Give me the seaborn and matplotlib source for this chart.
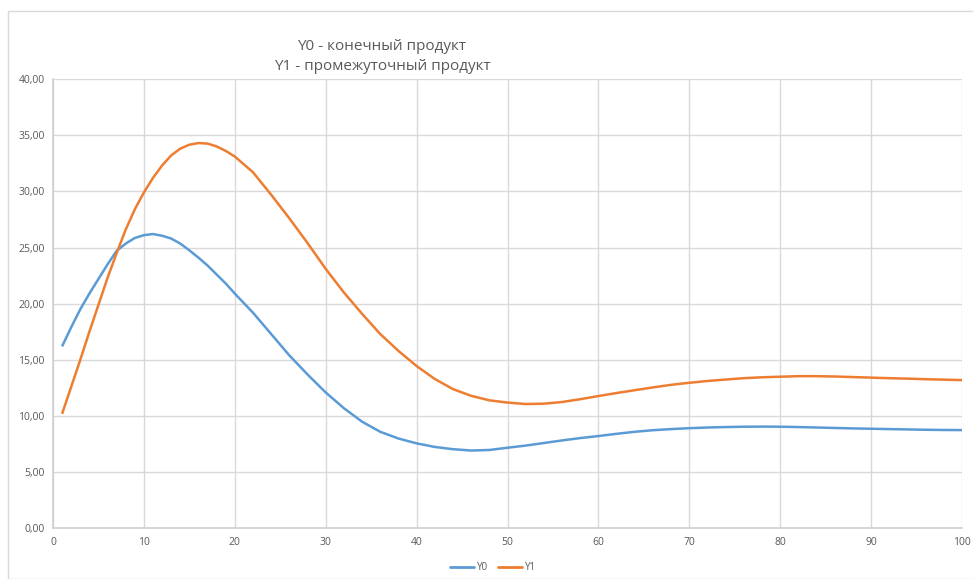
import matplotlib
matplotlib.use("Agg")
import matplotlib.pyplot as plt
import seaborn as sns
import pandas as pd
from matplotlib.ticker import FuncFormatter, MultipleLocator
from matplotlib.patches import Rectangle
from matplotlib.lines import Line2D

x_vals = list(range(1, 21)) + list(range(22, 101, 2))

y0 = [16.2, 17.9, 19.5, 20.9, 22.2, 23.5, 24.7, 25.35, 25.85, 26.1,
      26.2, 26.05, 25.8, 25.35, 24.75, 24.1, 23.4, 22.6, 21.8, 20.9,
      19.2, 17.3, 15.4, 13.7, 12.1, 10.7, 9.5, 8.6, 8.0, 7.57,
      7.25, 7.05, 6.93, 6.98, 7.18, 7.37, 7.6, 7.83, 8.04, 8.22,
      8.42, 8.6, 8.74, 8.84, 8.92, 8.98, 9.02, 9.05, 9.06, 9.05,
      9.02, 8.98, 8.94, 8.9, 8.87, 8.84, 8.81, 8.78, 8.76, 8.75]

y1 = [10.2, 12.6, 15.0, 17.5, 19.9, 22.3, 24.5, 26.6, 28.4, 29.9,
      31.2, 32.3, 33.2, 33.8, 34.15, 34.3, 34.25, 34.0, 33.6, 33.1,
      31.7, 29.7, 27.6, 25.4, 23.1, 21.0, 19.1, 17.3, 15.8, 14.45,
      13.3, 12.4, 11.8, 11.4, 11.2, 11.07, 11.1, 11.25, 11.5, 11.78,
      12.05, 12.3, 12.55, 12.78, 12.96, 13.12, 13.25, 13.37, 13.45, 13.5,
      13.55, 13.55, 13.52, 13.47, 13.42, 13.37, 13.33, 13.28, 13.24, 13.2]

series_names = ["Y0", "Y1"]
title_lines = ["Y0 - конечный продукт", "Y1 - промежуточный продукт"]

df = pd.DataFrame({
    "x": x_vals * 2,
    "y": y0 + y1,
    "series": [series_names[0]] * len(x_vals) + [series_names[1]] * len(x_vals),
})

sns.set_theme(style="white")
plt.rcParams["font.family"] = ["Open Sans", "DejaVu Sans"]

fig = plt.figure(figsize=(9.73, 5.79), dpi=100)
ax = fig.add_axes([53 / 973, 1 - 528.4 / 579, (962 - 53) / 973, (528.4 - 79) / 579])

palette = {"Y0": "#5B9BD5", "Y1": "#ED7D31"}
sns.lineplot(data=df, x="x", y="y", hue="series", palette=palette,
             linewidth=1.8, ax=ax, legend=False, zorder=3,
             solid_joinstyle="round", solid_capstyle="butt")

ax.set_xlim(0, 100)
ax.set_ylim(0, 40)
ax.xaxis.set_major_locator(MultipleLocator(10))
ax.yaxis.set_major_locator(MultipleLocator(5))
ax.yaxis.set_major_formatter(FuncFormatter(lambda v, p: f"{v:.2f}".replace(".", ",")))
ax.xaxis.set_major_formatter(FuncFormatter(lambda v, p: f"{int(v)}"))
ax.grid(True, color="#d9d9d9", linewidth=1.0, zorder=0)
ax.set_axisbelow(True)
for side in ["top", "right"]:
    ax.spines[side].set_visible(False)
for side in ["left", "bottom"]:
    ax.spines[side].set_color("#d0d0d0")
    ax.spines[side].set_linewidth(1.2)
ax.tick_params(axis="both", length=0, labelsize=7.5, colors="#595959", pad=6)
ax.set_xlabel("")
ax.set_ylabel("")

fig.text(382 / 973, 1 - 46 / 579, title_lines[0], ha="center", va="center",
         fontsize=11, color="#595959")
fig.text(382 / 973, 1 - 67 / 579, title_lines[1], ha="center", va="center",
         fontsize=11, color="#595959")

handles = [Line2D([0], [0], color=palette[s], linewidth=2.0) for s in series_names]
fig.legend(handles, series_names, loc="center", bbox_to_anchor=(493 / 973, 1 - 568 / 579),
           ncol=2, frameon=False, fontsize=7, labelcolor="#595959",
           handlelength=2.5, handletextpad=0.3, columnspacing=1.0)

fig.patches.append(Rectangle((8 / 973, 0), 1.2, 1 - 11 / 579, transform=fig.transFigure,
                             fill=False, edgecolor="#d9d9d9", linewidth=1.0))

fig.savefig("out.png", dpi=100)
